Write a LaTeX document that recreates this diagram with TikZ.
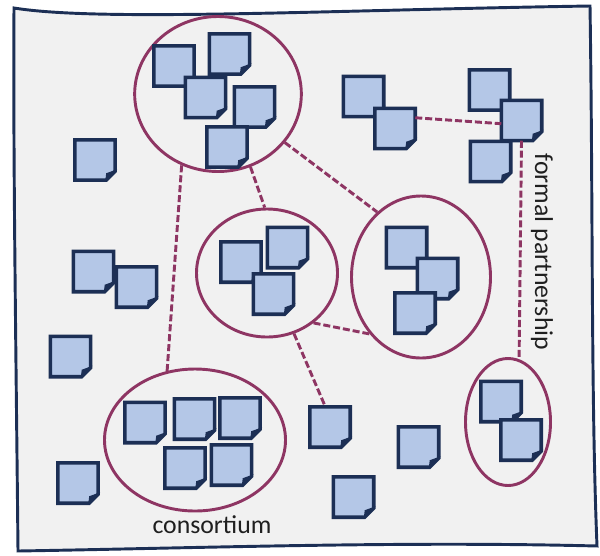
\documentclass[tikz,border=0pt]{standalone}
\usepackage{fontspec}
\setmainfont{Carlito}
\usepackage{tikz}
\usetikzlibrary{shapes.geometric}
\definecolor{plum}{HTML}{8E3563}
\definecolor{navy}{HTML}{1C2F55}
\definecolor{sheetblue}{HTML}{B4C7E7}
\definecolor{bggray}{HTML}{F1F1F1}

\begin{document}
\begin{tikzpicture}[x=0.03cm, y=-0.03cm]
    \def\w{1.2cm}
    \def\f{9}
    \tikzstyle{spot} = [rectangle, minimum size=\w, inner sep=0pt]
    \tikzstyle{sheet} = [fill=sheetblue, draw=navy, line width=3pt, line join=miter]
    \tikzstyle{fold} = [fill=navy]
    \tikzstyle{group} = [ellipse, draw=plum, line width=2.5pt, inner sep=0pt]
    \tikzstyle{link} = [draw=plum, line width=2.5pt, dash pattern=on 6pt off 2.5pt]
    \tikzstyle{caption} = [font=\fontsize{22}{26}\selectfont, text=black!88, inner sep=0pt]
    \useasboundingbox (0,0) rectangle (600,555);
    \path[fill=bggray, draw=navy, line width=2.5pt]
        (14,8) .. controls (100,22) and (330,10) .. (590,6)
        .. controls (593,200) and (591,400) .. (597,546)
        .. controls (400,541) and (200,548) .. (18,551)
        .. controls (16,350) and (13,150) .. (14,8) -- cycle;
    \node[group, minimum width=5.0cm, minimum height=4.65cm] (top) at (218,94) {};
    \node[group, minimum width=4.23cm, minimum height=3.84cm] (midl) at (267,273) {};
    \node[group, minimum width=4.17cm, minimum height=4.86cm] (midr) at (421,277) {};
    \node[group, minimum width=5.43cm, minimum height=4.26cm] (cons) at (195,440) {};
    \node[group, minimum width=2.55cm, minimum height=3.81cm] (small) at (508,422) {};
    \foreach \n/\x/\y in {t1/174/66, t2/229.5/54, t3/205.5/97.5, t4/254.5/107, t5/227/147,
                          f/363.5/96.5, g/395/128.5, h/489.5/90, j/490.5/161.5, i/521.5/120.5,
                          k/95/160, l1/93.5/271.5, l2/136.5/287, n/70.5/356.5,
                          m1/241/262, m2/287.5/247.5, m3/273.5/294,
                          r1/406.5/247.5, r2/437.5/278.5, r3/415/313,
                          u/330/427, v/418.5/447, w/353.5/497,
                          c1/145/422.5, c2/194.5/419, c3/240/418, c4/185/468, c5/231.5/465,
                          y/78/483, s1/501/401.5, s2/521/440} {
        \node[spot] (\n) at (\x,\y) {};
        \path[sheet] (\n.north west) -- (\n.north east) -- ([shift={(0,-\f)}]\n.south east)
            -- ([shift={(-\f,0)}]\n.south east) -- (\n.south west) -- cycle;
        \fill[fold] ([shift={(-10,1)}]\n.south east) -- ([shift={(2,-11)}]\n.south east)
            -- ([shift={(-9,-7)}]\n.south east) -- cycle;
    }
    \draw[link] (top.243) -- (cons.112);
    \draw[link] (top.294) -- (midl.92);
    \draw[link] (top.324) -- (midr.124);
    \draw[link] (midl.313) -- (midr.228);
    \draw[link] (midl.294) -- (u.103);
    \draw[link] (g.28) -- (i.189);
    \draw[link] (i.south) -- (small.80);
    \node[caption] (constext) at (212,525) {consortium};
    \node[caption, rotate=-90] (parttext) at (542,252) {formal partnership};
\end{tikzpicture}
\end{document}
